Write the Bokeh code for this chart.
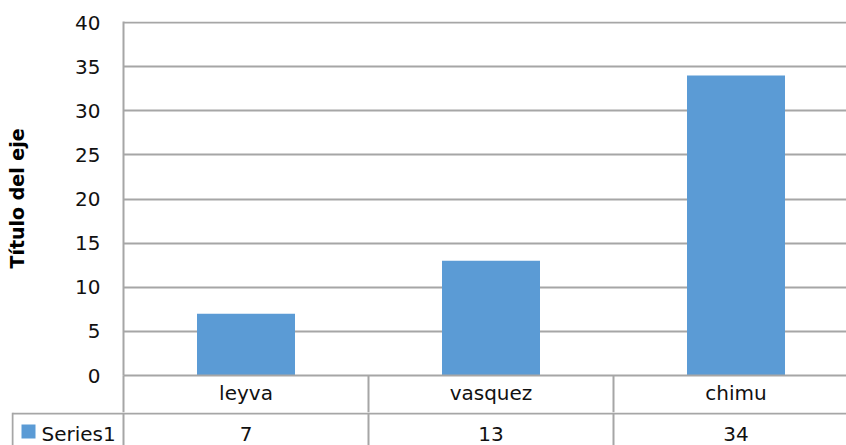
from bokeh.plotting import figure
from bokeh.layouts import column
from bokeh.models import Range1d, FixedTicker, ColumnDataSource
from bokeh.core.properties import value
from bokeh.embed import file_html
from bokeh.resources import INLINE

# ---- data ----
categories = ["leyva", "vasquez", "chimu"]
series_name = "Series1"
values = [7, 13, 34]
y_ticks = [0, 5, 10, 15, 20, 25, 30, 35, 40]
y_axis_title = "Título del eje"

BAR_COLOR = "#5B9BD5"
LINE_COLOR = "#a6a6a6"
TEXT_COLOR = "#111111"
FONT = "DejaVu Sans"

n = len(categories)
positions = [i + 0.5 for i in range(n)]
boundaries = list(range(n + 1))
src = ColumnDataSource(dict(x=positions, top=values, cat=categories,
                            val=[str(v) for v in values]))

CAT_W = 245.0          # pixels per category
FRAME_LEFT = 123       # pixel x of the value axis

# ---- top: the bar chart + category row (as x axis) ----
top = figure(width=846, height=412, output_backend="svg", toolbar_location=None,
             x_range=Range1d(0, (846 - FRAME_LEFT) / CAT_W),
             y_range=Range1d(0, 40.114),
             min_border_left=FRAME_LEFT, min_border_right=0, min_border_top=21,
             min_border_bottom=37)
top.frame_align = False
top.outline_line_color = None
top.background_fill_color = "white"
top.border_fill_color = "white"

top.vbar(x="x", top="top", width=0.4, bottom=0, source=src,
         fill_color=BAR_COLOR, line_color=None)

ax = top.yaxis[0]
ax.ticker = FixedTicker(ticks=y_ticks)
ax.axis_line_color = LINE_COLOR
ax.axis_line_width = 2
ax.major_tick_line_color = None
ax.minor_tick_line_color = None
ax.major_tick_out = 0
ax.major_tick_in = 0
ax.major_label_standoff = 23
ax.major_label_text_font = FONT
ax.major_label_text_font_size = "20px"
ax.major_label_text_color = TEXT_COLOR
ax.axis_label = y_axis_title
ax.axis_label_text_font = FONT
ax.axis_label_text_font_style = "bold"
ax.axis_label_text_font_size = "19px"
ax.axis_label_text_color = "#000000"
ax.axis_label_standoff = 44

xa = top.xaxis[0]
xa.ticker = FixedTicker(ticks=positions, minor_ticks=boundaries)
xa.major_label_overrides = {p: c for p, c in zip(positions, categories)}
xa.axis_line_color = LINE_COLOR
xa.axis_line_width = 2
xa.major_tick_line_color = None
xa.major_tick_out = 0
xa.major_tick_in = 0
xa.minor_tick_line_color = LINE_COLOR
xa.minor_tick_line_width = 2
xa.minor_tick_out = 37
xa.minor_tick_in = 0
xa.major_label_standoff = -32
xa.major_label_text_font = FONT
xa.major_label_text_font_size = "20px"
xa.major_label_text_color = TEXT_COLOR

top.ygrid.grid_line_color = LINE_COLOR
top.ygrid.grid_line_width = 2
top.ygrid.ticker = FixedTicker(ticks=y_ticks)
top.xgrid.visible = False

# ---- bottom: value row of the data table ----
BOT_LEFT = 11
x0 = -(FRAME_LEFT - BOT_LEFT) / CAT_W
bot = figure(width=846, height=33, output_backend="svg", toolbar_location=None,
             x_axis_location=None, y_axis_location=None,
             x_range=Range1d(x0, x0 + (846 - BOT_LEFT) / CAT_W),
             y_range=Range1d(33, 0),
             min_border_left=BOT_LEFT, min_border_right=0, min_border_top=0,
             min_border_bottom=0)
bot.frame_align = False
bot.outline_line_color = None
bot.background_fill_color = "white"
bot.border_fill_color = "white"
for g in bot.grid:
    g.visible = False

legend_left = -(FRAME_LEFT - 12) / CAT_W
bot.segment(x0=[legend_left], y0=[1], x1=[n + 1], y1=[1],
            line_color=LINE_COLOR, line_width=2)
vx = [legend_left] + boundaries
bot.segment(x0=vx, y0=[0] * len(vx), x1=vx, y1=[40] * len(vx),
            line_color=LINE_COLOR, line_width=2)

bot.text(x="x", y=21, text="val", source=src, text_align="center",
         text_baseline="middle", text_font=value(FONT),
         text_font_size="20px", text_color=TEXT_COLOR)

bot.scatter(x=[-(FRAME_LEFT - 28) / CAT_W], y=[19], marker="square", size=14,
            fill_color=BAR_COLOR, line_color=None)
bot.text(x=[-(FRAME_LEFT - 41) / CAT_W], y=[21], text=[series_name],
         text_align="left", text_baseline="middle", text_font=value(FONT),
         text_font_size="20px", text_color=TEXT_COLOR)

layout = column(top, bot, spacing=0)
open("out.html", "w").write(file_html(layout, INLINE))
